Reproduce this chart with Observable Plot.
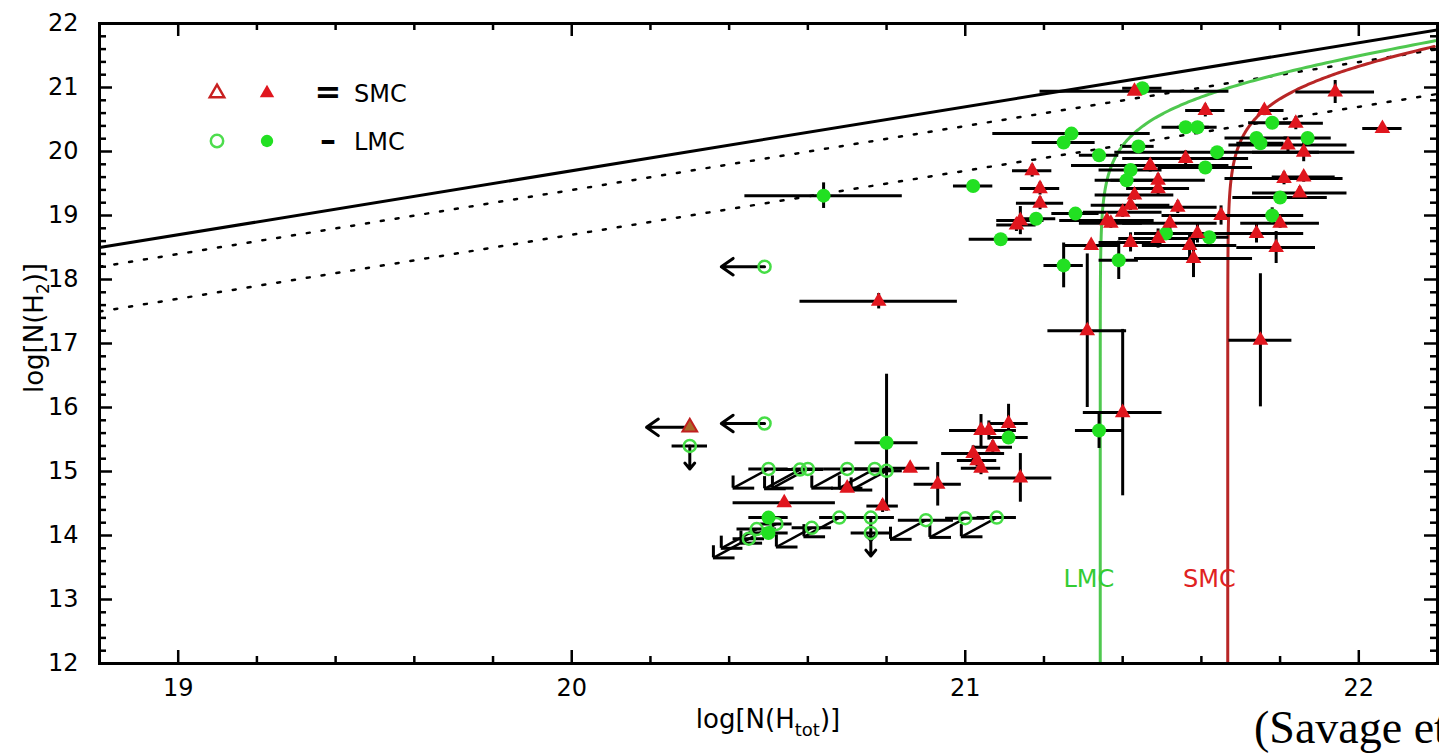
<!DOCTYPE html>
<html>
<head>
<meta charset="utf-8">
<script src="https://cdn.jsdelivr.net/npm/d3@7"></script>
<script src="https://cdn.jsdelivr.net/npm/@observablehq/plot@0.6"></script>
<style>
  html, body { margin: 0; padding: 0; background: #fff; overflow: hidden; }
  #chart { width: 1439px; height: 755px; }
</style>
</head>
<body>
<div id="chart"></div>
<script>
// Molecular hydrogen in the Magellanic Clouds:
// log N(H2) against log N(Htot). Rows are [logNtot, logNH2, xErr, yErr].
const smcDetections = [
  [21.43, 20.94, 0.24, 0.06], [21.61, 20.64, 0.05, 0.10], [21.76, 20.64, 0.05, 0.08],
  [21.94, 20.93, 0.10, 0.18], [22.06, 20.36, 0.05, 0.04], [21.84, 20.44, 0.07, 0.10],
  [21.82, 20.10, 0.15, 0.10], [21.86, 19.99, 0.13, 0.15], [21.56, 19.89, 0.16, 0.12],
  [21.81, 19.58, 0.15, 0.10], [21.86, 19.60, 0.08, 0.08], [21.85, 19.35, 0.12, 0.10],
  [21.80, 18.88, 0.10, 0.08], [21.65, 19.00, 0.15, 0.15], [21.74, 18.72, 0.12, 0.15],
  [21.79, 18.50, 0.10, 0.25], [21.75, 17.05, 0.08, 1.04], [21.59, 18.72, 0.08, 0.15],
  [21.57, 18.53, 0.12, 0.20], [21.58, 18.33, 0.15, 0.30], [21.54, 19.13, 0.10, 0.10],
  [21.52, 18.88, 0.12, 0.12], [21.49, 18.64, 0.10, 0.15], [21.42, 18.58, 0.08, 0.15],
  [21.32, 18.53, 0.07, 0.05], [21.31, 17.20, 0.10, 1.20], [21.40, 15.92, 0.10, 1.30],
  [21.47, 19.78, 0.20, 0.10], [21.49, 19.55, 0.12, 0.10], [21.49, 19.42, 0.08, 0.10],
  [21.43, 19.32, 0.10, 0.08], [21.42, 19.16, 0.10, 0.08], [21.40, 19.05, 0.10, 0.08],
  [21.37, 18.88, 0.08, 0.08], [21.36, 18.92, 0.12, 0.08], [21.17, 19.70, 0.05, 0.10],
  [21.19, 19.42, 0.05, 0.10], [21.19, 19.19, 0.06, 0.10], [21.14, 18.92, 0.06, 0.22],
  [21.13, 18.85, 0.05, 0.10], [21.11, 15.75, 0.05, 0.30], [21.04, 15.64, 0.08, 0.25],
  [21.06, 15.64, 0.07, 0.15], [21.07, 15.38, 0.05, 0.10], [21.02, 15.28, 0.08, 0.12],
  [21.03, 15.17, 0.05, 0.10], [21.04, 15.05, 0.05, 0.10], [21.14, 14.90, 0.08, 0.38],
  [20.93, 14.80, 0.06, 0.34], [20.86, 15.05, 0.05, 0.05], [20.70, 14.74, 0.04, 0.05],
  [20.79, 14.46, 0.04, 0.10], [20.54, 14.51, 0.13, 0.05], [20.78, 17.66, 0.20, 0.12]
];

const lmcDetections = [
  [21.45, 20.99, 0.05, 0.05], [21.27, 20.28, 0.20, 0.05], [21.25, 20.14, 0.08, 0.06],
  [21.34, 19.94, 0.05, 0.05], [21.44, 20.08, 0.04, 0.05], [21.56, 20.38, 0.06, 0.05],
  [21.59, 20.38, 0.05, 0.05], [21.78, 20.45, 0.06, 0.08], [21.74, 20.21, 0.08, 0.06],
  [21.75, 20.13, 0.06, 0.08], [21.87, 20.21, 0.06, 0.06], [21.64, 19.99, 0.26, 0.08],
  [21.61, 19.75, 0.12, 0.08], [21.80, 19.28, 0.12, 0.08], [21.78, 19.00, 0.08, 0.12],
  [21.51, 18.72, 0.08, 0.10], [21.62, 18.66, 0.05, 0.05], [21.42, 19.71, 0.08, 0.08],
  [21.41, 19.55, 0.08, 0.08], [21.28, 19.03, 0.06, 0.08], [21.18, 18.95, 0.05, 0.05],
  [21.02, 19.46, 0.05, 0.06], [21.09, 18.63, 0.08, 0.06], [21.39, 18.30, 0.05, 0.30],
  [21.25, 18.22, 0.05, 0.35], [21.34, 15.64, 0.06, 0.28], [21.11, 15.53, 0.05, 0.08],
  [20.80, 15.45, 0.08, 1.07], [20.64, 19.31, 0.20, 0.20], [20.50, 14.28, 0.05, 0.05],
  [20.50, 14.04, 0.05, 0.05]
];

// Upper limits: [logNtot, logNH2] (down and diagonal ones also carry an x error)
const lmcLimitsLeft = [[20.49, 18.20], [20.49, 15.75]];
const smcLimitsLeft = [[20.30, 15.69]];
const lmcLimitsDown = [[20.30, 15.40, 0.045], [20.76, 14.28, 0.06], [20.76, 14.04, 0.05]];
const lmcLimitsDiagonal = [
  [20.50, 15.04, 0.05], [20.58, 15.03, 0.06], [20.60, 15.04, 0.04], [20.70, 15.04, 0.06],
  [20.77, 15.04, 0.05], [20.80, 15.01, 0.04], [20.61, 14.12, 0.05], [20.68, 14.28, 0.05],
  [20.90, 14.24, 0.07], [21.00, 14.27, 0.05], [21.08, 14.28, 0.05], [20.47, 14.10, 0.05],
  [20.45, 13.95, 0.04], [20.52, 14.18, 0.04]
];

// Reference lines of constant molecular fraction f = 2N(H2)/N(Htot)
const fractions = [1, 0.5, 0.1];
// Atomic column (log N(HI)) of the two model curves
const hiColumns = [
  { name: "LMC", logNHI: 21.343, color: "#4fc84f", text: "#33cc33", shift: 14 },
  { name: "SMC", logNHI: 21.667, color: "#b82626", text: "#e02222", shift: 8 }
];
const curveDivisor = 2.5;

const xDomain = [18.8, 22.2];
const yDomain = [12, 22];
const xTicks = [19, 20, 21, 22];
const yTicks = [12, 13, 14, 15, 16, 17, 18, 19, 20, 21, 22];

const red = "#e0161e";
const green = "#22e022";

// ---- derived geometry ----
const fractionLines = fractions.map(f => ({
  f,
  pts: xDomain.map(x => ({ x, y: x + Math.log10(f / 2) }))
}));

const curves = hiColumns.map(c => {
  const pts = [];
  const span = Math.log10(xDomain[1] - c.logNHI);
  for (let t = -11; t <= span + 1e-9; t += 0.01) {
    const x = c.logNHI + Math.pow(10, t);
    const y = c.logNHI + Math.log10(Math.expm1((x - c.logNHI) * Math.LN10)) - Math.log10(curveDivisor);
    pts.push({ x, y });
  }
  return { ...c, pts };
});

const minorX = d3.range(18.8, 22.2001, 0.2).map(v => +v.toFixed(1)).filter(v => !xTicks.includes(v));
const minorY = d3.range(12, 22.0001, 0.2).map(v => +v.toFixed(1)).filter(v => !yTicks.includes(v));

const W = 1439, H = 755;
const mT = 23, mB = 92, mL = 99, mR = 2;
const plotW = W - mL - mR, plotH = H - mT - mB;
const major = 13, minor = 7;

// diagonal upper-limit arrow: run in x and y, and the legs of its L-shaped head
const diagRun = 0.09, diagDrop = 0.30, headLegX = 0.055, headLegY = 0.19;

const errorBars = (rows) => [
  Plot.ruleY(rows, { y: d => d[1], x1: d => d[0] - d[2], x2: d => d[0] + d[2], stroke: "black", strokeWidth: 3, clip: true }),
  Plot.ruleX(rows, { x: d => d[0], y1: d => d[1] - d[3], y2: d => d[1] + d[3], stroke: "black", strokeWidth: 3, clip: true })
];

const chart = Plot.plot({
  width: W,
  height: H,
  marginTop: mT, marginBottom: mB, marginLeft: mL, marginRight: mR,
  x: { domain: xDomain },
  y: { domain: yDomain },
  style: { fontFamily: "'DejaVu Sans', sans-serif", fontSize: "24px", color: "black", background: "white" },
  marks: [
    // constant-fraction lines
    ...fractionLines.map(l => Plot.line(l.pts, {
      x: "x", y: "y", stroke: "black",
      strokeWidth: l.f === 1 ? 3 : 2.5,
      strokeDasharray: l.f === 1 ? null : "3 12",
      clip: true
    })),
    // fixed-N(HI) curves
    ...curves.map(c => Plot.line(c.pts, { x: "x", y: "y", stroke: c.color, strokeWidth: 3, clip: true })),
    ...curves.map(c => Plot.text([c], {
      x: d => d.logNHI, y: 13.32, text: d => d.name, fill: d => d.text,
      textAnchor: "end", dx: c.shift, fontSize: 24
    })),
    // error bars
    ...errorBars(lmcDetections),
    ...errorBars(smcDetections),
    // upper limits
    Plot.ruleY([...lmcLimitsDown, ...lmcLimitsDiagonal], {
      y: d => d[1], x1: d => d[0] - d[2], x2: d => d[0] + d[2], stroke: "black", strokeWidth: 3
    }),
    Plot.arrow([...lmcLimitsLeft, ...smcLimitsLeft], {
      x1: d => d[0], y1: d => d[1], x2: d => d[0] - 0.11, y2: d => d[1],
      stroke: "black", strokeWidth: 3, headAngle: 70, headLength: 16
    }),
    Plot.arrow(lmcLimitsDown, {
      x1: d => d[0], y1: d => d[1], x2: d => d[0], y2: d => d[1] - 0.36,
      stroke: "black", strokeWidth: 3, headAngle: 80, headLength: 16
    }),
    Plot.link(lmcLimitsDiagonal, {
      x1: d => d[0], y1: d => d[1], x2: d => d[0] - diagRun, y2: d => d[1] - diagDrop,
      stroke: "black", strokeWidth: 2.5
    }),
    Plot.ruleY(lmcLimitsDiagonal, {
      y: d => d[1] - diagDrop, x1: d => d[0] - diagRun, x2: d => d[0] - diagRun + headLegX,
      stroke: "black", strokeWidth: 3
    }),
    Plot.ruleX(lmcLimitsDiagonal, {
      x: d => d[0] - diagRun, y1: d => d[1] - diagDrop, y2: d => d[1] - diagDrop + headLegY,
      stroke: "black", strokeWidth: 3
    }),
    // markers
    Plot.dot([...lmcLimitsLeft, ...lmcLimitsDown, ...lmcLimitsDiagonal], {
      x: d => d[0], y: d => d[1], r: 6, stroke: "#45dd45", strokeWidth: 2.5, fill: "none"
    }),
    Plot.dot(lmcDetections, { x: d => d[0], y: d => d[1], r: 7, fill: green }),
    Plot.dot(smcLimitsLeft, { x: d => d[0], y: d => d[1], r: 5.5, symbol: "triangle", stroke: "#c02020", fill: "#a86a2a", strokeWidth: 2 }),
    Plot.dot(smcDetections, { x: d => d[0], y: d => d[1], r: 5.8, symbol: "triangle", fill: red }),
    // inward ticks on all four sides
    Plot.ruleX(xTicks, { x: d => d, insetTop: plotH - major, stroke: "black", strokeWidth: 2.5 }),
    Plot.ruleX(minorX, { x: d => d, insetTop: plotH - minor, stroke: "black", strokeWidth: 2.5 }),
    Plot.ruleX(xTicks, { x: d => d, insetBottom: plotH - major, stroke: "black", strokeWidth: 2.5 }),
    Plot.ruleX(minorX, { x: d => d, insetBottom: plotH - minor, stroke: "black", strokeWidth: 2.5 }),
    Plot.ruleY(yTicks, { y: d => d, insetRight: plotW - major, stroke: "black", strokeWidth: 2.5 }),
    Plot.ruleY(minorY, { y: d => d, insetRight: plotW - minor, stroke: "black", strokeWidth: 2.5 }),
    Plot.ruleY(yTicks, { y: d => d, insetLeft: plotW - major, stroke: "black", strokeWidth: 2.5 }),
    Plot.ruleY(minorY, { y: d => d, insetLeft: plotW - minor, stroke: "black", strokeWidth: 2.5 }),
    // tick labels
    Plot.axisX({ ticks: xTicks, tickSize: 0, tickPadding: 15, fontSize: 24, label: null, tickFormat: d => d }),
    Plot.axisY({ ticks: yTicks, tickSize: 0, tickPadding: 21, fontSize: 24, label: null, tickFormat: d => d }),
    Plot.frame({ stroke: "black", strokeWidth: 3 })
  ]
});

document.getElementById("chart").appendChild(chart);

// Axis titles, legend and credit line
const svg = d3.select(chart);
const font = "'DejaVu Sans', sans-serif";

const yTitle = svg.append("text")
  .attr("transform", `translate(43, 328) rotate(-90)`)
  .attr("text-anchor", "middle")
  .style("font-family", font).style("font-size", "26px").attr("fill", "black");
yTitle.append("tspan").text("log[N(H");
yTitle.append("tspan").attr("dy", 6).style("font-size", "17px").text("2");
yTitle.append("tspan").attr("dy", -6).text(")]");

const xTitle = svg.append("text")
  .attr("x", mL + plotW / 2).attr("y", 728)
  .attr("text-anchor", "middle")
  .style("font-family", font).style("font-size", "26px").attr("fill", "black");
xTitle.append("tspan").text("log[N(H");
xTitle.append("tspan").attr("dy", 8).style("font-size", "18px").text("tot");
xTitle.append("tspan").attr("dy", -8).text(")]");

const legendRows = [
  { open: d3.symbolTriangle, size: 90, stroke: "#c82020", fill: red, sep: "=", name: "SMC", y: 93 },
  { open: d3.symbolCircle, size: 120, stroke: "#4ddd4d", fill: green, sep: "\u2013", name: "LMC", y: 141 }
];
const legend = svg.append("g");
legendRows.forEach(r => {
  legend.append("path").attr("d", d3.symbol(r.open, r.size)())
    .attr("transform", `translate(217, ${r.y})`).attr("fill", "none").attr("stroke", r.stroke).attr("stroke-width", 2.5);
  legend.append("path").attr("d", d3.symbol(r.open, r.size)())
    .attr("transform", `translate(267, ${r.y})`).attr("fill", r.fill);
  legend.append("text").attr("x", 328).attr("y", r.y + 10).attr("text-anchor", "middle")
    .style("font-family", font).style("font-size", "32px").style("font-weight", "bold").text(r.sep);
  legend.append("text").attr("x", 354).attr("y", r.y + 9).attr("text-anchor", "start")
    .style("font-family", font).style("font-size", "24px").text(r.name);
});

svg.append("text")
  .attr("x", 1254).attr("y", 743).attr("text-anchor", "start")
  .style("font-family", "'Liberation Serif', 'Times New Roman', serif").style("font-size", "46px")
  .attr("fill", "black")
  .text("(Savage et al. 1977)");
</script>
</body>
</html>
